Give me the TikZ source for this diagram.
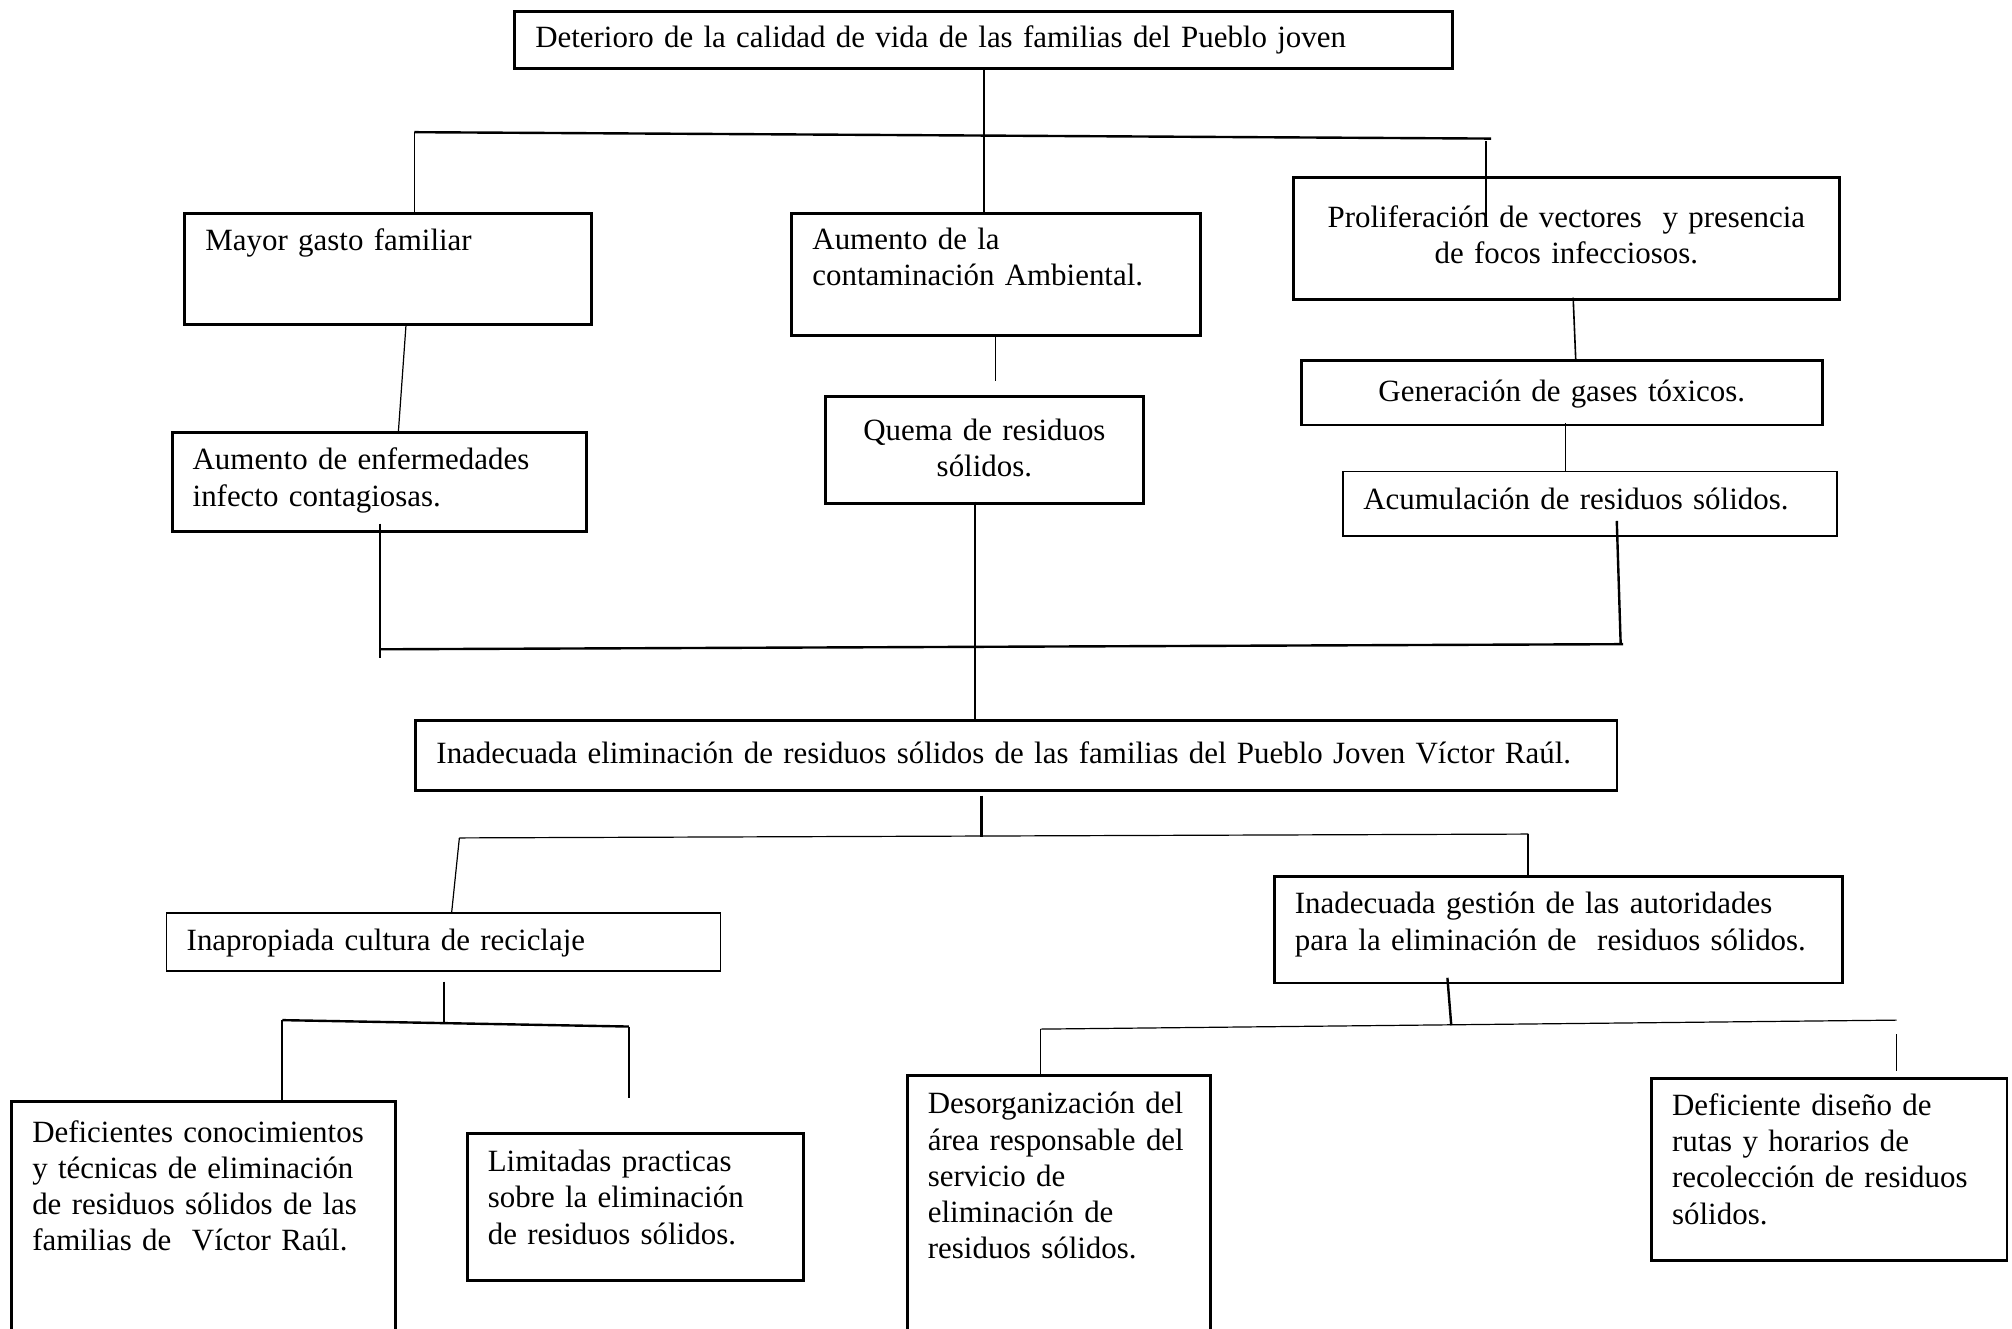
\documentclass[tikz,border=0pt]{standalone}
\usepackage{fontspec}
\setmainfont{Liberation Serif}

\begin{document}
\begin{tikzpicture}[x=0.4813pt,y=-0.4813pt,line width=0.6pt,font=\fontsize{11.6}{13.6}\selectfont]
  \tikzstyle{caja}=[draw,line width=1.1pt,anchor=north west,inner xsep=7.7pt,inner ysep=0pt,text height=14pt,align=left]
  \tikzstyle{fina}=[line width=0.45pt]
  \tikzstyle{gruesa}=[line width=0.9pt]
  \useasboundingbox (0,0) rectangle (1568,1035);

  % efectos
  \node[caja,text width=336.4pt,text height=13.5pt,text depth=7.7pt] (deterioro) at (400,8)
    {Deterioro de la calidad de vida de las familias del Pueblo joven};
  \node[caja,text width=137.2pt,text depth=27.9pt] (gasto) at (143,165)
    {Mayor gasto familiar};
  \node[caja,text width=137.7pt,text height=13.5pt,text depth=32.2pt] (contaminacion) at (616,165)
    {Aumento de la\\contaminación Ambiental.};
  \node[caja,align=center,text width=189.2pt,text height=18.8pt,text depth=26.9pt] (proliferacion) at (1007,137)
    {Proliferación de vectores~ y presencia\\de focos infecciosos.};
  \node[caja,text width=140.1pt,text depth=23.1pt] (enfermedades) at (133,336)
    {Aumento de enfermedades\\infecto contagiosas.};
  \node[caja,align=center,text width=104pt,text height=16.4pt,text depth=23.5pt] (quema) at (642,308)
    {Quema de residuos\\sólidos.};
  \node[caja,align=center,text width=180pt,text height=15.4pt,text depth=8.7pt] (gases) at (1013,280)
    {Generación de gases tóxicos.};
  \node[caja,line width=0.5pt,text width=169.9pt,text height=14.4pt,text depth=9.7pt] (acumulacion) at (1046,367)
    {Acumulación de residuos sólidos.};

  % problema central
  \node[caja,text width=435.1pt,text height=16.4pt,text depth=10.1pt] (eliminacion) at (323,560)
    {Inadecuada eliminación de residuos sólidos de las familias del Pueblo Joven Víctor Raúl.};

  % causas
  \node[caja,line width=0.5pt,text width=192.5pt,text depth=7.7pt] (reciclaje) at (129,711)
    {Inapropiada cultura de reciclaje};
  \node[caja,text width=197.8pt,text depth=25.9pt] (gestion) at (992,682)
    {Inadecuada gestión de las autoridades\\para la eliminación de~ residuos sólidos.};
  \node[caja,text width=128.5pt,text height=15.4pt,text depth=76pt] (conocimientos) at (8,857)
    {Deficientes conocimientos\\y técnicas de eliminación\\de residuos sólidos de las\\familias de~ Víctor Raúl.};
  \node[caja,text width=110.7pt,text height=14.4pt,text depth=40.9pt] (practicas) at (363,882)
    {Limitadas practicas\\sobre la eliminación\\de residuos sólidos.};
  \node[caja,text width=98.2pt,text height=14.4pt,text depth=86.7pt] (desorganizacion) at (706,837)
    {Desorganización del\\área responsable del\\servicio de\\eliminación de\\residuos sólidos.};
  \node[caja,text width=117.9pt,text depth=54.3pt] (diseno) at (1286,839)
    {Deficiente diseño de\\rutas y horarios de\\recolección de residuos\\sólidos.};

  % puntos de las ramas
  \coordinate (t1) at (323,103);
  \coordinate (t2) at (1162,108);
  \coordinate (t3) at (1158,110);
  \coordinate (t4) at (1158,176);
  \coordinate (g1) at (316.5,252);
  \coordinate (g2) at (310.5,336);
  \coordinate (c1) at (776,263);
  \coordinate (c2) at (776,297);
  \coordinate (v1) at (1226,232);
  \coordinate (v2) at (1228,280);
  \coordinate (v3) at (1220,330);
  \coordinate (q1) at (760,391);
  \coordinate (m1) at (296,408);
  \coordinate (m2) at (296,513);
  \coordinate (b1) at (296,506);
  \coordinate (b2) at (1265,502);
  \coordinate (a1) at (1260,406);
  \coordinate (a2) at (1263,501);
  \coordinate (i1) at (765,620);
  \coordinate (i2) at (765,652);
  \coordinate (h1) at (358,653);
  \coordinate (h2) at (1191,650);
  \coordinate (h3) at (352,711);
  \coordinate (r1) at (346,765);
  \coordinate (r2) at (346,798);
  \coordinate (k1) at (220,795);
  \coordinate (k2) at (490,800);
  \coordinate (k3) at (490,856);
  \coordinate (s1) at (1128,762);
  \coordinate (s2) at (1131,799);
  \coordinate (d1) at (811,802);
  \coordinate (d2) at (1478,795);
  \coordinate (d3) at (1478,806);
  \coordinate (d4) at (1478,835);

  % arbol de efectos
  \draw (deterioro.south) -- (deterioro.south |- contaminacion.north);
  \draw[gruesa] (t1) -- (t2);
  \draw (t1) -- (t1 |- gasto.north);
  \draw (t3) -- (t4);
  \draw[fina] (g1) -- (g2);
  \draw[fina] (c1) -- (c2);
  \draw (v1) -- (v2);
  \draw (v3) -- (v3 |- acumulacion.north);
  \draw[gruesa] (q1) -- (q1 |- eliminacion.north);
  \draw[gruesa] (m1) -- (m2);
  \draw[gruesa] (b1) -- (b2);
  \draw[gruesa] (a1) -- (a2);

  % arbol de causas
  \draw[gruesa] (i1) -- (i2);
  \draw[fina] (h1) -- (h2);
  \draw[fina] (h1) -- (h3);
  \draw (h2) -- (h2 |- gestion.north);
  \draw[fina] (r1) -- (r2);
  \draw[gruesa] (k1) -- (k2);
  \draw[gruesa] (k1) -- (k1 |- conocimientos.north);
  \draw[gruesa] (k2) -- (k3);
  \draw[gruesa] (s1) -- (s2);
  \draw[fina] (d1) -- (d2);
  \draw[fina] (d1) -- (d1 |- desorganizacion.north);
  \draw[fina] (d3) -- (d4);
\end{tikzpicture}
\end{document}
